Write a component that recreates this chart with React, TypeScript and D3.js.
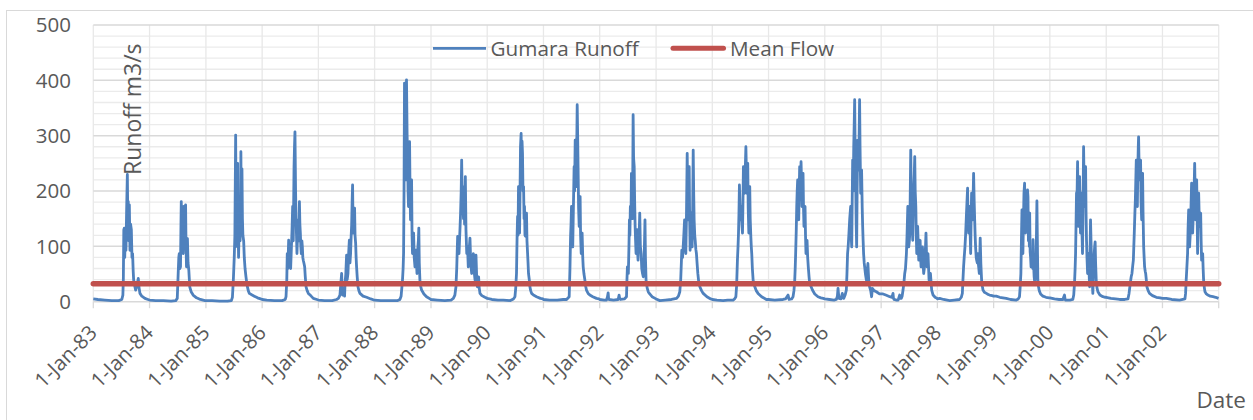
import React from 'react';
import * as d3 from 'd3';

// ---- data ----
const years = [1983, 1984, 1985, 1986, 1987, 1988, 1989, 1990, 1991, 1992, 1993, 1994, 1995, 1996, 1997, 1998, 1999, 2000, 2001, 2002];
const tickLabels = ["1-Jan-83", "1-Jan-84", "1-Jan-85", "1-Jan-86", "1-Jan-87", "1-Jan-88", "1-Jan-89", "1-Jan-90", "1-Jan-91", "1-Jan-92", "1-Jan-93", "1-Jan-94", "1-Jan-95", "1-Jan-96", "1-Jan-97", "1-Jan-98", "1-Jan-99", "1-Jan-00", "1-Jan-01", "1-Jan-02"];
const yTicks = [0, 100, 200, 300, 400, 500];
const meanFlow = 32.5;

// [day of year, runoff m3/s]
const runoff1983: [number, number][] = [[0,5],[30,4],[75,3],[120,2],[165,2],[185,4],[192,12],[195,40],[198,130],[201,133],[204,80],[208,124],[212,93],[216,160],[221,230],[224,150],[227,181],[230,110],[234,175],[238,93],[242,140],[247,130],[251,80],[255,87],[259,55],[262,39],[268,30],[275,21],[284,30],[292,42],[297,25],[303,15],[315,10],[335,6],[355,4]];
const runoff1984: [number, number][] = [[0,3],[40,2],[90,2],[140,1],[170,2],[180,6],[186,51],[190,80],[193,87],[197,60],[201,63],[204,140],[206,181],[209,120],[212,172],[216,90],[219,87],[223,172],[226,110],[229,99],[234,175],[237,100],[240,63],[243,90],[246,114],[250,70],[255,57],[261,27],[270,18],[283,12],[305,7],[330,4],[360,2]];
const runoff1985: [number, number][] = [[0,2],[40,2],[90,1],[140,1],[165,2],[172,8],[178,39],[184,81],[188,120],[193,301],[196,160],[199,100],[203,200],[206,250],[209,130],[212,80],[216,140],[219,180],[222,110],[225,150],[227,271],[230,130],[234,240],[237,150],[240,120],[245,110],[249,80],[254,60],[260,45],[267,30],[275,20],[282,15],[300,12],[314,10],[335,7],[355,5]];
const runoff1986: [number, number][] = [[0,4],[30,3],[80,2],[130,2],[150,4],[155,9],[160,40],[163,87],[167,60],[172,111],[176,70],[181,87],[185,60],[190,99],[194,130],[198,172],[202,110],[207,244],[210,280],[213,307],[217,200],[220,148],[223,120],[226,87],[230,120],[235,148],[238,110],[242,181],[245,140],[248,124],[251,100],[254,87],[258,110],[261,99],[264,80],[267,75],[271,70],[276,63],[280,45],[285,27],[292,20],[300,15],[315,11],[332,6],[355,4]];
const runoff1987: [number, number][] = [[0,3],[40,2],[90,2],[118,4],[130,6],[140,12],[151,51],[155,15],[158,12],[165,20],[170,10],[173,33],[178,50],[183,84],[187,40],[192,51],[197,90],[201,111],[205,70],[209,87],[213,120],[216,139],[219,180],[222,211],[225,140],[229,124],[232,150],[235,169],[238,120],[242,105],[245,80],[248,63],[252,45],[257,27],[263,20],[270,15],[290,10],[313,8],[340,5],[360,3]];
const runoff1988: [number, number][] = [[0,3],[40,2],[100,2],[150,2],[164,4],[172,10],[181,39],[185,60],[188,87],[191,200],[194,395],[197,250],[201,328],[204,220],[207,401],[211,300],[214,268],[217,200],[220,172],[224,240],[227,289],[230,200],[233,148],[236,180],[240,220],[243,120],[246,87],[249,100],[253,124],[257,80],[262,63],[265,80],[268,93],[272,70],[275,51],[278,80],[281,99],[284,110],[287,133],[290,70],[294,39],[299,28],[305,21],[320,14],[337,9],[360,5]];
const runoff1989: [number, number][] = [[0,4],[40,3],[90,2],[130,3],[145,6],[155,12],[162,27],[167,60],[170,90],[173,118],[177,100],[182,87],[185,110],[188,130],[192,160],[196,200],[199,256],[203,180],[208,172],[211,150],[214,208],[218,140],[223,226],[227,130],[232,87],[237,100],[242,63],[247,90],[253,115],[258,70],[264,51],[270,70],[275,87],[280,55],[286,39],[292,84],[296,50],[301,27],[305,38],[309,45],[313,25],[318,15],[330,11],[350,8]];
const runoff1990: [number, number][] = [[0,6],[30,4],[70,3],[104,3],[150,2],[170,5],[180,9],[185,25],[190,51],[194,120],[197,154],[200,120],[203,208],[207,150],[210,124],[213,200],[216,280],[220,304],[223,250],[226,290],[229,268],[232,200],[236,208],[239,150],[242,172],[245,120],[249,118],[252,140],[255,160],[258,110],[262,87],[265,70],[268,51],[273,40],[277,27],[282,20],[288,15],[300,12],[320,9],[345,6],[362,5]];
const runoff1991: [number, number][] = [[0,4],[40,3],[90,3],[128,4],[150,4],[167,9],[172,60],[176,118],[179,140],[182,172],[186,120],[190,99],[195,180],[199,244],[202,200],[206,292],[209,250],[212,208],[216,280],[219,356],[222,300],[225,238],[228,170],[232,136],[235,160],[238,190],[241,120],[245,87],[248,100],[251,124],[255,80],[258,63],[263,50],[269,39],[274,28],[279,21],[290,15],[301,12],[320,9],[344,6],[360,5]];
const runoff1992: [number, number][] = [[0,4],[30,3],[44,3],[50,8],[55,16],[58,5],[61,4],[90,3],[120,4],[126,12],[130,5],[135,4],[160,5],[174,9],[177,40],[180,63],[183,55],[186,51],[190,100],[193,148],[196,120],[199,172],[203,150],[206,232],[209,180],[213,150],[217,338],[220,260],[224,244],[227,180],[230,136],[233,110],[236,87],[239,100],[243,130],[246,90],[249,75],[253,110],[257,130],[260,160],[264,100],[269,87],[273,60],[278,51],[283,45],[288,70],[294,148],[297,80],[301,39],[308,25],[315,18],[322,15],[340,9],[360,6]];
const runoff1993: [number, number][] = [[0,5],[25,2],[60,3],[100,4],[133,6],[145,10],[154,18],[160,40],[164,70],[167,93],[172,80],[176,99],[180,120],[185,148],[189,110],[193,87],[197,150],[202,268],[205,200],[209,148],[212,190],[215,244],[218,150],[221,93],[225,120],[228,160],[231,130],[234,99],[237,150],[241,274],[244,200],[247,148],[251,120],[254,111],[258,95],[262,87],[266,70],[271,51],[277,35],[284,27],[295,20],[306,15],[330,9],[355,5]];
const runoff1994: [number, number][] = [[0,4],[30,3],[70,2],[100,3],[135,3],[145,5],[153,9],[158,30],[163,75],[167,100],[170,124],[173,160],[176,211],[180,170],[183,148],[186,160],[189,172],[192,140],[196,124],[199,180],[202,244],[205,210],[209,196],[213,230],[218,280],[221,240],[224,196],[227,220],[230,250],[233,170],[237,124],[240,160],[243,208],[246,150],[250,118],[253,100],[256,87],[260,60],[265,39],[270,32],[276,27],[285,20],[297,15],[320,9],[351,4]];
const runoff1995: [number, number][] = [[0,4],[40,3],[94,4],[110,5],[127,12],[133,4],[150,5],[159,9],[165,20],[170,39],[173,60],[176,87],[180,130],[183,172],[186,200],[189,220],[192,180],[196,148],[199,200],[202,244],[206,200],[211,253],[214,220],[217,172],[220,200],[224,232],[227,170],[230,136],[233,150],[237,172],[240,120],[243,87],[246,100],[250,111],[254,80],[258,63],[263,45],[267,33],[275,28],[285,21],[300,14],[321,9],[340,7],[355,6]];
const runoff1996: [number, number][] = [[0,5],[30,4],[60,3],[75,4],[82,10],[86,24],[92,6],[105,5],[114,15],[118,8],[123,6],[132,12],[140,21],[144,50],[148,87],[152,100],[157,124],[162,150],[168,172],[171,120],[175,99],[178,180],[181,256],[185,200],[188,280],[191,320],[194,365],[197,280],[201,208],[204,140],[207,99],[210,200],[214,292],[217,260],[220,238],[223,300],[226,365],[229,280],[233,196],[236,220],[239,238],[243,170],[246,136],[249,110],[252,87],[256,70],[259,63],[264,50],[270,39],[275,55],[280,69],[285,40],[291,27],[298,20],[304,9],[309,24],[320,20],[335,18],[355,14]];
const runoff1997: [number, number][] = [[0,14],[12,14],[30,12],[56,9],[70,8],[77,15],[80,6],[84,4],[100,3],[110,3],[120,12],[125,6],[131,6],[136,10],[142,21],[148,35],[153,51],[158,60],[164,87],[168,120],[173,172],[176,130],[179,99],[183,110],[186,124],[189,200],[192,274],[195,200],[199,148],[202,130],[205,111],[208,160],[212,208],[215,230],[218,262],[221,200],[225,172],[228,120],[231,87],[234,110],[237,136],[241,100],[244,75],[248,90],[253,111],[256,80],[259,63],[263,75],[268,99],[272,70],[276,51],[280,60],[285,87],[288,100],[291,124],[294,90],[298,63],[301,75],[304,87],[308,60],[311,39],[316,45],[320,51],[324,35],[328,21],[337,12],[350,8],[363,6]];
const runoff1998: [number, number][] = [[0,5],[15,6],[40,4],[80,2],[110,3],[144,4],[155,8],[162,15],[166,40],[170,63],[174,80],[179,99],[183,120],[188,154],[192,180],[196,205],[199,150],[203,124],[206,140],[209,172],[213,120],[216,87],[219,150],[222,196],[226,170],[229,148],[232,190],[235,232],[239,180],[242,148],[245,120],[248,99],[252,80],[255,75],[259,70],[263,87],[267,65],[272,51],[275,80],[278,115],[282,70],[287,39],[292,28],[296,21],[305,17],[318,15],[330,13],[339,12],[355,11]];
const runoff1999: [number, number][] = [[0,10],[17,10],[40,8],[60,7],[82,6],[110,4],[147,3],[160,5],[168,9],[172,25],[177,51],[181,120],[184,166],[187,110],[190,87],[194,150],[197,196],[201,214],[204,150],[207,124],[210,160],[213,130],[216,170],[220,202],[223,190],[226,110],[229,136],[232,100],[234,160],[237,90],[240,80],[243,63],[247,90],[251,70],[254,60],[256,112],[259,70],[263,45],[267,35],[271,45],[275,70],[278,120],[281,182],[284,110],[287,40],[291,28],[296,20],[305,14],[320,10],[340,8],[360,7]];
const runoff2000: [number, number][] = [[0,7],[30,5],[60,4],[85,4],[92,10],[95,12],[99,4],[102,3],[130,3],[149,4],[155,12],[160,33],[164,60],[167,87],[170,140],[173,196],[177,200],[180,253],[183,180],[186,136],[190,170],[193,226],[196,170],[199,124],[203,150],[206,196],[209,120],[212,87],[215,160],[219,280],[222,220],[225,172],[228,200],[232,244],[235,160],[238,111],[241,80],[245,51],[248,70],[251,87],[255,50],[258,27],[261,90],[264,148],[268,100],[271,75],[275,40],[279,15],[283,50],[288,87],[291,100],[294,108],[297,70],[301,39],[306,25],[312,18],[325,12],[344,9],[360,8]];
const runoff2001: [number, number][] = [[0,8],[30,6],[60,5],[87,4],[120,4],[141,5],[148,15],[156,33],[162,45],[167,51],[172,65],[176,75],[179,100],[182,124],[186,160],[189,184],[192,220],[195,256],[198,200],[202,172],[205,240],[208,280],[210,298],[213,250],[217,220],[220,240],[223,256],[226,180],[230,148],[233,190],[236,232],[239,160],[243,99],[246,80],[249,63],[253,55],[256,51],[260,40],[264,27],[272,20],[281,15],[300,11],[325,8],[350,7]];
const runoff2002: [number, number][] = [[0,6],[25,6],[60,4],[111,3],[146,5],[150,15],[154,39],[158,60],[163,87],[166,130],[170,166],[173,120],[176,99],[180,120],[183,148],[186,180],[189,214],[192,160],[196,124],[199,150],[202,172],[205,200],[209,250],[212,200],[215,148],[218,180],[222,220],[225,160],[228,87],[231,140],[235,196],[238,160],[241,136],[245,150],[248,160],[251,110],[254,75],[258,80],[261,87],[264,60],[267,39],[272,25],[276,18],[285,14],[295,12],[310,10],[328,9],[345,8],[364,6]];

const runoffByYear = [runoff1983, runoff1984, runoff1985, runoff1986, runoff1987, runoff1988, runoff1989, runoff1990, runoff1991, runoff1992, runoff1993, runoff1994, runoff1995, runoff1996, runoff1997, runoff1998, runoff1999, runoff2000, runoff2001, runoff2002];

type Pt = { date: Date; value: number };

export default function App() {
  const W = 1253, H = 420;
  const left = 93.3, right = 1218.7, top = 25, bottom = 301.7;
  const textColor = '#595959';
  const font = "'Open Sans', sans-serif";

  const x = d3.scaleUtc()
    .domain([new Date(Date.UTC(years[0], 0, 1)), new Date(Date.UTC(years[years.length - 1] + 1, 0, 1))])
    .range([left, right]);
  const y = d3.scaleLinear().domain([0, 500]).range([bottom, top]);

  const series: Pt[] = runoffByYear.flatMap((pts, i) =>
    pts.map(([d, v]) => ({ date: new Date(Date.UTC(years[i], 0, 1) + d * 86400000), value: v }))
  );
  const line = d3.line<Pt>().x(d => x(d.date)).y(d => y(d.value));

  const minor = d3.range(0, 501, 20).filter(v => v % 100 !== 0);
  const gridYears = [...years, years[years.length - 1] + 1];

  return (
    <svg width={W} height={H} style={{ position: 'absolute', left: 0, top: 0, background: '#fff' }} fontFamily={font}>
      <rect x={0} y={0} width={W} height={H} fill="#fff" />
      <rect x={6.5} y={10.5} width={1400} height={600} fill="none" stroke="#D9D9D9" strokeWidth={1} />
      {/* minor horizontal grid */}
      {minor.map(v => (
        <line key={'mn' + v} x1={left} x2={right} y1={y(v)} y2={y(v)} stroke="#EBEBEB" strokeWidth={1.3} />
      ))}
      {/* vertical grid */}
      {gridYears.map(yr => {
        const xx = x(new Date(Date.UTC(yr, 0, 1)));
        return <line key={'vg' + yr} x1={xx} x2={xx} y1={top} y2={bottom} stroke="#E8E8E8" strokeWidth={1.3} />;
      })}
      {/* major horizontal grid */}
      {yTicks.map(v => (
        <line key={'mj' + v} x1={left} x2={right} y1={y(v)} y2={y(v)} stroke="#D9D9D9" strokeWidth={1.5} />
      ))}
      {/* x tick marks */}
      {gridYears.map(yr => {
        const xx = x(new Date(Date.UTC(yr, 0, 1)));
        return <line key={'tk' + yr} x1={xx} x2={xx} y1={bottom} y2={bottom + 6.5} stroke="#D9D9D9" strokeWidth={1.3} />;
      })}
      {/* y tick labels */}
      {yTicks.map(v => (
        <text key={'yl' + v} x={71} y={y(v)} dy="0.36em" textAnchor="end" fontSize={20.5} fill={textColor}>{v}</text>
      ))}
      {/* x tick labels */}
      {years.map((yr, i) => {
        const xx = x(new Date(Date.UTC(yr, 0, 1)));
        return (
          <text key={'xl' + yr} transform={`translate(${xx},${329}) rotate(-45)`} dy="0.35em" textAnchor="end" fontSize={20.5} fill={textColor}>
            {tickLabels[i]}
          </text>
        );
      })}
      {/* runoff series */}
      <path d={line(series) || ''} fill="none" stroke="#4F81BD" strokeWidth={2.8} strokeLinejoin="round" />
      {/* mean flow */}
      <line x1={left} x2={right} y1={y(meanFlow)} y2={y(meanFlow)} stroke="#C0504D" strokeWidth={5.5} strokeLinecap="round" />
      {/* axis titles */}
      <text transform={`translate(141,175) rotate(-90)`} fontSize={23} fill={textColor}>Runoff m3/s</text>
      <text x={1246} y={408} textAnchor="end" fontSize={22.5} fill={textColor}>Date</text>
      {/* legend */}
      <line x1={433} x2={486} y1={48.3} y2={48.3} stroke="#4F81BD" strokeWidth={2.8} />
      <text x={490.5} y={55.5} fontSize={20.7} fill={textColor}>Gumara Runoff</text>
      <line x1={673} x2={723.5} y1={48.3} y2={48.3} stroke="#C0504D" strokeWidth={5} strokeLinecap="round" />
      <text x={730} y={55.5} fontSize={20.7} fill={textColor}>Mean Flow</text>
    </svg>
  );
}
